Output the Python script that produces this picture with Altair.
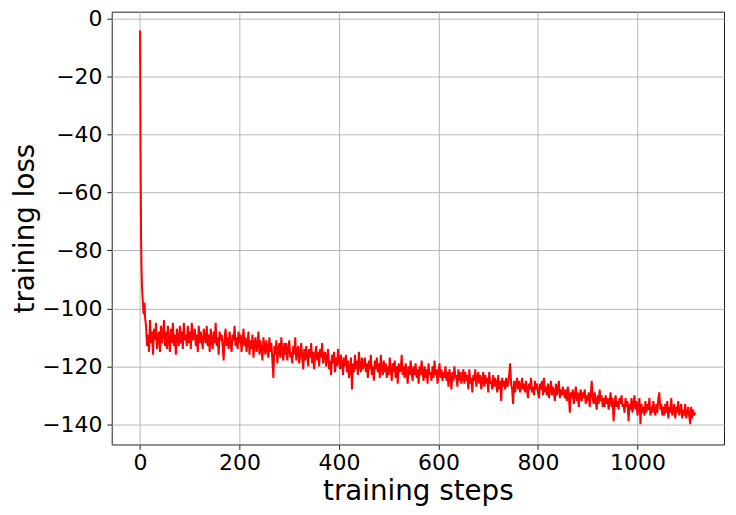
import altair as alt
import pandas as pd

# Initial steep descent (steps 0..10)
head_steps = [0, 1, 2, 3, 4, 5, 6, 7, 8, 9, 10]
head_loss = [-4, -45, -75, -87, -93, -96, -99, -102, -100, -98, -103]

# Noisy plateau / slow decline, steps 12..1116 every 2 steps
body_loss = [
    -106, -113, -109, -115, -104, -112, -108, -116, -107, -111, -105, -114, -110, -108, -115, -106, -112, -109, -104, -113,
    -108, -114, -106, -111, -115, -107, -112, -105, -113, -109, -116, -107, -110, -113, -106, -112, -108, -114, -105, -111,
    -109, -113, -106, -112, -108, -114, -105, -111, -110, -107, -113, -109, -115, -106, -112, -108, -111, -114, -107, -110,
    -112, -106, -113, -109, -115, -107, -111, -114, -108, -112, -105, -113, -110, -116, -108, -111, -109, -113, -118, -110,
    -107, -113, -110, -114, -108, -112, -115, -109, -111, -106, -113, -110, -114, -108, -112, -109, -115, -111, -107, -113,
    -110, -115, -112, -108, -116, -111, -114, -109, -117, -112, -110, -115, -113, -108, -116, -111, -114, -118, -110, -113,
    -116, -111, -114, -117, -110, -115, -112, -118, -124, -113, -116, -111, -119, -114, -112, -117, -110, -115, -118, -112,
    -116, -112, -118, -114, -111, -117, -115, -119, -113, -116, -110, -118, -115, -113, -119, -116, -112, -117, -121, -114,
    -118, -113, -116, -120, -114, -117, -112, -119, -115, -121, -116, -113, -118, -115, -120, -114, -117, -112, -119, -116,
    -115, -120, -117, -114, -121, -118, -123, -116, -119, -115, -122, -117, -120, -114, -118, -121, -116, -119, -123, -117,
    -120, -116, -122, -118, -124, -121, -117, -128, -119, -122, -116, -121, -118, -123, -115, -120, -122, -117, -121, -119,
    -117, -122, -119, -124, -118, -121, -116, -123, -120, -125, -118, -121, -117, -122, -119, -124, -116, -121, -123, -118,
    -122, -119, -124, -120, -123, -117, -121, -125, -119, -122, -118, -124, -120, -126, -119, -122, -121, -116, -123, -120,
    -124, -119, -122, -126, -120, -123, -118, -122, -125, -120, -123, -119, -124, -121, -126, -120, -123, -118, -122, -125,
    -120, -124, -121, -126, -119, -123, -122, -125, -120, -124, -118, -123, -121, -126, -122, -119, -124, -121, -125, -122,
    -124, -120, -125, -122, -127, -121, -124, -128, -122, -125, -120, -124, -123, -127, -121, -125, -122, -126, -124, -121,
    -126, -122, -125, -123, -128, -121, -126, -124, -129, -123, -125, -121, -127, -124, -122, -126, -123, -128, -125, -122,
    -127, -123, -126, -124, -129, -122, -126, -125, -128, -123, -127, -124, -126, -129, -123, -128, -125, -132, -124, -127,
    -125, -128, -124, -127, -126, -123, -119, -126, -128, -133, -125, -129, -126, -124, -128, -125, -129, -127, -124, -128,
    -126, -129, -125, -128, -131, -126, -128, -124, -129, -127, -130, -125, -128, -126, -129, -131, -126, -128, -125, -130,
    -124, -129, -127, -130, -126, -131, -128, -125, -130, -127, -129, -132, -126, -130, -128, -125, -131, -128, -130, -127,
    -129, -131, -128, -132, -127, -130, -136, -129, -131, -128, -133, -130, -127, -132, -129, -134, -130, -128, -132, -129,
    -131, -128, -133, -130, -132, -129, -134, -130, -125, -131, -133, -129, -132, -135, -130, -133, -128, -132, -130, -134,
    -131, -134, -130, -133, -131, -135, -132, -129, -134, -131, -139, -133, -130, -134, -132, -135, -131, -133, -130, -134,
    -133, -136, -131, -134, -132, -139, -133, -135, -131, -136, -133, -130, -135, -132, -137, -134, -131, -140, -133, -136,
    -134, -137, -132, -136, -133, -135, -131, -137, -134, -136, -132, -135, -137, -133, -136, -131, -129, -135, -133, -137,
    -134, -137, -133, -136, -132, -138, -134, -136, -131, -137, -135, -133, -138, -134, -136, -132, -137, -135, -133, -138,
    -135, -137, -133, -138, -136, -134, -137, -140, -134, -138, -135, -137, -136,
]
body_steps = list(range(12, 12 + 2 * len(body_loss), 2))

x_ticks = [0, 200, 400, 600, 800, 1000]
y_ticks = [0, -20, -40, -60, -80, -100, -120, -140]

df = pd.DataFrame({
    "step": head_steps + body_steps,
    "loss": head_loss + body_loss,
})

FONT = "DejaVu Sans"

chart = (
    alt.Chart(df)
    .mark_line(color="#ff0000", strokeWidth=2.0, clip=True)
    .encode(
        x=alt.X(
            "step:Q",
            scale=alt.Scale(domain=[-57, 1174], nice=False, zero=False),
            axis=alt.Axis(
                values=x_ticks,
                format="d",
                title="training steps",
                titleX=307,
                titleY=55,
                titleBaseline="alphabetic",
                titleAlign="center",
            ),
        ),
        y=alt.Y(
            "loss:Q",
            scale=alt.Scale(domain=[-147, 2.5], nice=False, zero=False),
            axis=alt.Axis(
                values=y_ticks,
                title="training loss",
                titleX=-78,
                titleY=217,
                titleBaseline="alphabetic",
                titleAlign="center",
                titleAngle=270,
            ),
        ),
    )
    .properties(
        width=614,
        height=434,
        autosize=alt.AutoSizeParams(type="none"),
        padding={"left": 104, "top": 3, "right": 4, "bottom": 62},
    )
    .configure_view(stroke="#222222", strokeWidth=1)
    .configure_axis(
        labelFont=FONT,
        labelFontSize=22,
        labelColor="black",
        titleFont=FONT,
        titleFontSize=27.8,
        titleFontWeight="normal",
        titleColor="black",
        grid=True,
        gridColor="#b0b0b0",
        gridWidth=0.9,
        domain=False,
        ticks=True,
        tickColor="#222222",
        tickSize=4.9,
        tickWidth=1,
    )
    .configure_axisX(labelPadding=3.5)
    .configure_axisY(labelPadding=4.9)
)

chart.save("out.html", embed_options={"renderer": "svg", "actions": False})
